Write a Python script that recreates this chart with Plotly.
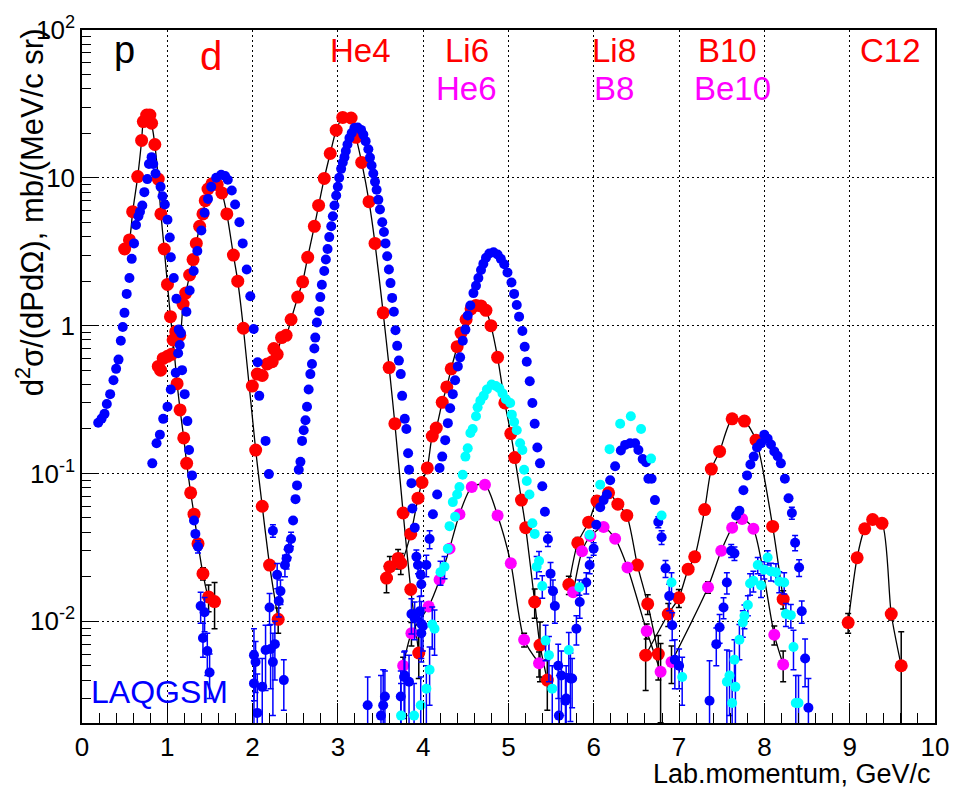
import math
import plotly.graph_objects as go

# ---------------- data: (momentum GeV/c, d2sigma, error) ----------------
# experimental (red) fragments, joined by black curves
exp_p = [(0.50,3.3,0),(0.556,3.8,0),(0.594,5.9,0),(0.653,10.2,0),(0.699,17.9,0),(0.719,24,0),(0.758,26.6,0),
         (0.796,26.6,0),(0.816,23.4,0),(0.854,16.8,0),(0.894,9.8,0),(0.925,5.7,0),(0.964,3.3,0),(1.002,1.9,0),
         (1.037,1.15,0),(1.068,0.80,0),(1.115,0.405,0),(1.150,0.269,0),(1.193,0.174,0),(1.227,0.117,0),
         (1.274,0.074,0),(1.313,0.053,0),(1.360,0.0335,0.002),(1.418,0.021,0.002),(1.484,0.0146,0.003),
         (1.554,0.0136,0.0047)]
exp_d = [(0.894,0.53,0),(0.921,0.50,0),(0.952,0.60,0),(1.002,0.62,0),(1.049,0.64,0),(1.099,0.91,0),(1.146,0.86,0),
         (1.185,1.4,0),(1.216,1.66,0),(1.262,2.2,0),(1.302,2.8,0),(1.340,3.6,0),(1.379,4.7,0),(1.418,5.7,0),
         (1.445,7.0,0),(1.477,8.4,0),(1.523,9.1,0),(1.585,9.0,0),(1.640,7.9,0),(1.698,5.7,0),(1.775,3.0,0),
         (1.826,2.0,0),(1.892,0.96,0),(2.036,0.144,0),(2.113,0.060,0),(2.199,0.024,0),(2.30,0.0103,0.002)]
exp_he4 = [(1.997,0.39,0),(2.055,0.47,0),(2.113,0.46,0),(2.171,0.55,0),(2.230,0.57,0),(2.249,0.70,0),(2.288,0.64,0),
           (2.339,0.83,0),(2.393,0.86,0),(2.451,1.1,0),(2.529,1.56,0),(2.587,1.98,0),(2.646,2.9,0),(2.724,4.7,0),
           (2.774,6.5,0),(2.840,9.9,0),(2.910,14.6,0),(2.980,21,0),(3.057,25.6,0),(3.155,25.4,0),(3.213,18.8,0),
           (3.279,12.7,0),(3.365,6.9,0),(3.435,3.6,0),(3.531,1.22,0),(3.601,0.52,0),(3.668,0.217,0),
           (3.765,0.054,0),(3.854,0.0164,0),(3.948,0.0061,0.002)]
exp_li6 = [(3.570,0.0196,0.004),(3.609,0.0234,0.004),(3.706,0.0266,0.004),(3.737,0.0247,0.004),(3.854,0.039,0),
           (3.939,0.068,0),(3.986,0.087,0),(4.048,0.109,0),(4.106,0.179,0),(4.153,0.203,0),(4.223,0.303,0),
           (4.277,0.385,0),(4.328,0.51,0),(4.398,0.72,0),(4.444,0.89,0),(4.503,1.10,0),(4.561,1.30,0),
           (4.619,1.37,0),(4.678,1.36,0),(4.736,1.27,0),(4.794,1.0,0),(4.872,0.61,0),(4.957,0.30,0),
           (5.027,0.186,0),(5.074,0.128,0),(5.152,0.066,0),(5.202,0.043,0.003),(5.307,0.0135,0.003),
           (5.369,0.0069,0.003),(5.455,0.0040,0.0015)]
exp_li8 = [(5.707,0.0177,0.0025),(5.812,0.0339,0.003),(5.940,0.0468,0),(6.037,0.065,0),(6.173,0.074,0),
           (6.282,0.062,0),(6.387,0.052,0),(6.511,0.024,0),(6.632,0.0131,0.002),(6.756,0.0060,0.002)]
exp_b10 = [(6.608,0.0059,0.0025),(6.873,0.0112,0.002),(6.997,0.0144,0.002),(7.106,0.0225,0),(7.183,0.0273,0),
           (7.300,0.057,0),(7.378,0.107,0),(7.475,0.141,0),(7.622,0.234,0),(7.766,0.226,0),(7.902,0.168,0),
           (8.097,0.0438,0),(8.220,0.0141,0.002)]
exp_c12 = [(8.982,0.0098,0.0015),(9.087,0.0269,0),(9.176,0.0422,0),(9.269,0.0488,0),(9.379,0.046,0),
           (9.487,0.0112,0.001),(9.604,0.0050,0.0035)]
# experimental (magenta) fragments
exp_he6 = [(3.765,0.0050,0.0007),(3.862,0.0083,0.0015),(4.064,0.0126,0),(4.192,0.0191,0),(4.309,0.031,0),
           (4.425,0.053,0),(4.569,0.081,0),(4.724,0.084,0),(4.872,0.052,0),(5.027,0.0247,0),(5.183,0.0075,0.0008),
           (5.358,0.0052,0.001)]
exp_b8 = [(5.758,0.0157,0),(5.862,0.0298,0),(5.960,0.0377,0),(6.115,0.0434,0),(6.250,0.0362,0),(6.395,0.0231,0),
          (6.620,0.0086,0.001),(6.783,0.00456,0.0025)]
exp_be10 = [(6.911,0.0053,0.0015),(7.339,0.017,0.0015),(7.494,0.030,0),(7.622,0.0429,0),(7.739,0.0492,0),
            (7.871,0.0422,0),(8.116,0.0081,0.0012),(8.220,0.0051,0.0012)]

# LAQGSM (blue) for p, d, He4, Li6, Li8, B10
laq_p = [(0.19,0.22,0),(0.23,0.235,0),(0.264,0.253,0),(0.291,0.295,0),(0.330,0.344,0),(0.369,0.427,0),(0.400,0.51,0),
         (0.428,0.589,0),(0.455,0.79,0),(0.478,0.98,0),(0.498,1.22,0),(0.524,1.64,0),(0.556,2.1,0),(0.583,2.83,0),
         (0.610,3.6,0),(0.633,4.8,0),(0.661,5.5,0),(0.680,5.9,0),(0.707,6.5,0),(0.731,8.0,0),(0.766,9.8,0),
         (0.785,12.4,0),(0.816,13.8,0),(0.835,12.4,0),(0.862,10.7,0),(0.921,8.7,0),(0.944,7.5,0),(0.971,6.6,0),
         (1.002,5.2,0),(1.029,3.95,0),(1.041,2.9,0),(1.076,2.1,0),(1.107,1.52,0),(1.134,0.94,0),(1.173,0.50,0),
         (1.204,0.344,0),(1.235,0.226,0),(1.255,0.144,0),(1.290,0.097,0),(1.313,0.048,0),(1.329,0.039,0),
         (1.360,0.032,0.003),(1.391,0.0127,0.003),(1.437,0.0115,0.003),(1.418,0.0077,0.002),(1.469,0.0063,0.002),
         (1.496,0.0045,0.0015)]
laq_d = [(0.824,0.117,0),(0.874,0.160,0),(0.913,0.183,0),(0.952,0.234,0),(1.002,0.283,0),(1.041,0.37,0),
         (1.099,0.48,0),(1.127,0.65,0),(1.146,0.74,0),(1.160,0.89,0),(1.224,1.24,0),(1.262,1.73,0),(1.309,2.34,0),
         (1.352,3.2,0),(1.399,4.4,0),(1.437,5.8,0),(1.477,7.2,0),(1.515,8.7,0),(1.573,10.0,0),(1.632,10.5,0),
         (1.678,10.3,0),(1.709,9.7,0),(1.756,8.2,0),(1.795,6.6,0),(1.845,5.0,0),(1.884,3.6,0),(1.931,2.4,0),
         (1.973,1.58,0),(2.013,0.95,0),(2.059,0.565,0),(2.078,0.335,0),(2.152,0.166,0),(2.191,0.099,0),
         (2.238,0.041,0.004),(2.199,0.0124,0.003),(2.261,0.0070,0.003),(2.238,0.0053,0.003),(2.366,0.0040,0.0015)]
laq_he4 = [(2.016,0.0059,0.003),(2.016,0.0038,0.0025),(2.055,0.0024,0.002),(2.035,0.0053,0.002),(2.113,0.0036,0.002),
           (2.152,0.0064,0.003),(2.211,0.0065,0.003),(2.288,0.0206,0.004),(2.307,0.0137,0.003),(2.327,0.016,0.003),
           (2.379,0.024,0.004),(2.398,0.0266,0.004),(2.424,0.031,0.004),(2.451,0.036,0.004),(2.475,0.048,0),
           (2.503,0.067,0),(2.521,0.083,0),(2.541,0.106,0),(2.561,0.12,0),(2.580,0.166,0),(2.599,0.196,0),
           (2.620,0.229,0),(2.638,0.283,0),(2.657,0.37,0),(2.677,0.47,0),(2.696,0.55,0),(2.724,0.70,0),
           (2.735,0.83,0),(2.754,1.05,0),(2.782,1.25,0),(2.794,1.56,0),(2.812,1.89,0),(2.840,2.34,0),(2.859,2.8,0),
           (2.879,3.3,0),(2.899,3.97,0),(2.922,4.7,0),(2.941,5.5,0),(2.960,6.5,0),(2.980,7.6,0),(2.999,8.7,0),
           (3.015,10,0),(3.038,11.5,0),(3.057,12.7,0),(3.077,13.8,0),(3.093,15.2,0),(3.112,16.8,0),(3.135,18.6,0),
           (3.162,20.1,0),(3.193,21.7,0),(3.232,21.9,0),(3.272,21.1,0),(3.298,19.6,0),(3.325,17.7,0),
           (3.357,15.6,0),(3.376,13.7,0),(3.395,12.1,0),(3.415,10.7,0),(3.435,9.4,0),(3.454,8.3,0),(3.474,7.1,0),
           (3.493,6.1,0),(3.520,5.0,0),(3.540,4.3,0),(3.558,3.6,0),(3.578,2.95,0),(3.598,2.4,0),(3.617,1.94,0),
           (3.636,1.54,0),(3.656,1.24,0),(3.675,0.93,0),(3.695,0.73,0),(3.715,0.58,0),(3.737,0.47,0),
           (3.753,0.335,0),(3.784,0.234,0),(3.803,0.20,0),(3.823,0.137,0),(3.834,0.106,0),(3.862,0.086,0),
           (3.873,0.058,0),(3.901,0.043,0),(3.920,0.0273,0.003),(3.939,0.024,0.003),(3.971,0.0206,0.003),
           (3.978,0.0178,0.003),(3.862,0.0112,0.003),(3.959,0.0117,0.003),(3.978,0.0096,0.004),(3.978,0.0083,0.003),
           (3.784,0.0043,0.002),(3.834,0.0039,0.002),(3.551,0.0031,0.0015),(3.531,0.0027,0.002),
           (3.349,0.0027,0.0015),(3.505,0.0023,0.002),(3.737,0.0031,0.0015)]
laq_li6 = [(4.037,0.024,0.004),(4.075,0.036,0.005),(4.114,0.053,0),(4.164,0.072,0),(4.192,0.109,0),(4.223,0.130,0),
           (4.258,0.168,0),(4.289,0.219,0),(4.316,0.276,0),(4.347,0.344,0),(4.374,0.427,0),(4.406,0.53,0),
           (4.433,0.61,0),(4.464,0.79,0),(4.495,0.94,0),(4.522,1.17,0),(4.553,1.37,0),(4.589,1.66,0),(4.619,1.86,0),
           (4.647,2.1,0),(4.678,2.38,0),(4.705,2.62,0),(4.736,2.88,0),(4.775,3.08,0),(4.825,3.14,0),(4.872,3.03,0),
           (4.910,2.83,0),(4.950,2.6,0),(4.988,2.29,0),(5.035,1.96,0),(5.066,1.64,0),(5.097,1.38,0),(5.124,1.15,0),
           (5.163,0.92,0),(5.190,0.72,0),(5.214,0.57,0),(5.249,0.42,0),(5.280,0.30,0),(5.307,0.217,0),
           (5.338,0.150,0),(5.369,0.117,0),(5.396,0.082,0),(5.427,0.055,0),(5.462,0.036,0.004),(5.493,0.021,0.004),
           (5.521,0.016,0.003),(5.544,0.0127,0.003),(5.583,0.0050,0.002),(5.620,0.0043,0.002),(5.591,0.0023,0.002),
           (5.668,0.0029,0.0015),(5.676,0.0030,0.002),(5.726,0.0041,0.002),(5.746,0.0041,0.0015),
           (3.776,0.0042,0.002),(3.997,0.0093,0.003),(3.900,0.0105,0.003)]
laq_li8 = [(5.796,0.0089,0.002),(5.835,0.0135,0.003),(5.912,0.0183,0.003),(5.951,0.024,0.003),(5.998,0.031,0.003),
           (6.029,0.045,0),(6.075,0.059,0),(6.115,0.066,0),(6.154,0.072,0),(6.192,0.090,0),(6.250,0.112,0),
           (6.317,0.143,0),(6.367,0.156,0),(6.425,0.16,0),(6.484,0.16,0),(6.523,0.144,0),(6.573,0.125,0),
           (6.612,0.119,0),(6.640,0.092,0),(6.678,0.092,0),(6.717,0.066,0),(6.756,0.047,0.004),(6.795,0.037,0.004),
           (6.841,0.0228,0.003),(6.884,0.0148,0.003),(6.919,0.0094,0.002),(6.950,0.0055,0.002),(7.000,0.0050,0.0015)]
laq_b10 = [(7.357,0.0029,0.0025),(7.436,0.0070,0.002),(7.475,0.0091,0.002),(7.521,0.0124,0.002),(7.560,0.0183,0.003),
           (7.611,0.030,0.003),(7.649,0.0288,0.003),(7.669,0.052,0),(7.707,0.056,0),(7.754,0.077,0),(7.797,0.097,0),
           (7.836,0.115,0),(7.875,0.130,0),(7.914,0.150,0),(7.960,0.160,0),(7.999,0.183,0),(8.038,0.172,0),
           (8.077,0.157,0),(8.116,0.141,0),(8.155,0.131,0),(8.193,0.117,0),(8.240,0.092,0),(8.283,0.068,0),
           (8.322,0.054,0.005),(8.360,0.034,0.004),(8.407,0.0231,0.003),(8.438,0.0117,0.002),(8.477,0.0056,0.002),
           (8.516,0.0026,0.0015)]
# LAQGSM (cyan) for He6, B8, Be10
laq_he6 = [(3.740,0.0023,0.0015),(3.893,0.0023,0.0015),(3.971,0.0027,0.0015),(4.037,0.0035,0.0015),
           (4.075,0.0047,0.002),(4.106,0.0095,0.003),(4.133,0.0089,0.003),(4.203,0.0215,0.004),(4.250,0.0234,0.004),
           (4.289,0.031,0),(4.309,0.044,0),(4.374,0.051,0),(4.347,0.064,0),(4.398,0.072,0),(4.425,0.081,0),
           (4.463,0.098,0),(4.495,0.130,0),(4.522,0.148,0),(4.553,0.188,0),(4.580,0.20,0),(4.619,0.244,0),
           (4.638,0.28,0),(4.670,0.31,0),(4.709,0.335,0),(4.747,0.37,0),(4.802,0.40,0),(4.852,0.39,0),
           (4.892,0.377,0),(4.930,0.348,0),(4.969,0.318,0),(5.020,0.30,0),(5.039,0.25,0),(5.066,0.223,0),
           (5.097,0.196,0),(5.136,0.160,0),(5.163,0.144,0),(5.183,0.106,0),(5.214,0.089,0),(5.246,0.072,0),
           (5.280,0.046,0),(5.307,0.039,0),(5.330,0.0234,0.004),(5.358,0.0256,0.004),(5.396,0.0173,0.003),
           (5.435,0.0074,0.002),(5.474,0.0059,0.002),(5.513,0.0035,0.0015)]
laq_b8 = [(5.707,0.0064,0.002),(5.831,0.017,0.002),(5.951,0.0385,0),(6.075,0.084,0),(6.185,0.146,0),(6.309,0.217,0),
          (6.434,0.244,0),(6.554,0.20,0),(6.671,0.126,0),(6.795,0.052,0),(6.911,0.0183,0.003),(7.036,0.0042,0.0015)]
laq_be10 = [(7.560,0.0039,0.0025),(7.591,0.0043,0.002),(7.622,0.0028,0.0015),(7.649,0.0055,0.002),
            (7.660,0.0036,0.002),(7.707,0.0075,0.002),(7.747,0.0098,0.002),(7.766,0.0109,0.002),
            (7.806,0.0129,0.002),(7.832,0.018,0.003),(7.871,0.0188,0.003),(7.922,0.024,0.003),(7.960,0.0175,0.003),
            (7.999,0.0223,0.003),(8.038,0.027,0.003),(8.077,0.0217,0.003),(8.135,0.0215,0.003),
            (8.174,0.0186,0.003),(8.232,0.0183,0.003),(8.252,0.0112,0.002),(8.310,0.011,0.002),
            (8.341,0.0067,0.002),(8.368,0.0028,0.0015),(8.400,0.0028,0.0015)]

# text labels
frag_red = [("He4", 362), ("Li6", 469), ("Li8", 617), ("B10", 731), ("C12", 895)]
frag_mag = [("He6", 469), ("B8", 617), ("Be10", 736)]
y_tickvals = [0.01, 0.1, 1, 10, 100]
y_ticktext = ["10<sup>-2</sup>", "10<sup>-1</sup>", "1", "10", "10<sup>2</sup>"]
x_tickvals = list(range(0, 11))

# ---------------- figure ----------------
FONT = "Liberation Sans, Arial, Helvetica, sans-serif"
W, H = 961, 790
L, R, T, B = 82, 21, 20, 67
PW, PH = W - L - R, H - T - B

def px2paper(px, py):
    return (px - L) / PW, (H - B - py) / PH

def unpack(pts):
    xs = [p[0] for p in pts]
    ys = [p[1] for p in pts]
    es = [p[2] if p[2] > 0 else None for p in pts]
    return xs, ys, es

fig = go.Figure()

for g in [exp_p, exp_d, exp_he4, exp_li6, exp_li8, exp_b10, exp_c12, exp_he6, exp_b8, exp_be10]:
    xs, ys, _ = unpack(g)
    fig.add_trace(go.Scatter(x=xs, y=ys, mode="lines", showlegend=False, hoverinfo="skip",
                             line=dict(color="black", width=1.3, shape="spline", smoothing=0.7)))

def add_pts(g, color, size, ecolor):
    xs, ys, es = unpack(g)
    fig.add_trace(go.Scatter(x=xs, y=ys, mode="markers", showlegend=False,
                             marker=dict(color=color, size=size, line=dict(width=0)),
                             error_y=dict(type="data", array=es, visible=True, color=ecolor,
                                          thickness=1.5, width=3)))

for g in [exp_p, exp_d, exp_he4, exp_li6, exp_li8, exp_b10, exp_c12]:
    add_pts(g, "#ff0000", 13, "black")
for g in [exp_he6, exp_b8, exp_be10]:
    add_pts(g, "#ff00ff", 12, "black")
for g in [laq_p, laq_d, laq_he4, laq_li6, laq_li8, laq_b10]:
    add_pts(g, "#0000ff", 10, "#0000ff")
for g in [laq_he6, laq_b8, laq_be10]:
    add_pts(g, "#00ffff", 10, "#0000ff")

ymin = 0.00205
minor_y = [k * 10.0 ** d for d in range(-3, 2) for k in range(2, 10) if ymin < k * 10.0 ** d < 100]

fig.update_layout(
    width=W, height=H, margin=dict(l=L, r=R, t=T, b=B),
    paper_bgcolor="white", plot_bgcolor="white",
    font=dict(family=FONT, color="black"),
    xaxis=dict(range=[0, 10], tickvals=x_tickvals, ticks="inside", ticklen=20, tickwidth=1, tickcolor="black",
               showline=True, linecolor="black", linewidth=1.5, mirror=True, zeroline=False,
               showgrid=True, gridcolor="black", griddash="2px,3px", gridwidth=1,
               minor=dict(ticks="inside", ticklen=10, tick0=0, dtick=0.2, tickcolor="black", showgrid=False),
               tickfont=dict(family=FONT, size=26, color="black")),
    yaxis=dict(type="log", range=[math.log10(ymin), 2], tickvals=y_tickvals, ticktext=y_ticktext,
               ticks="inside", ticklen=17, tickwidth=1, tickcolor="black",
               showline=True, linecolor="black", linewidth=1.5, mirror=True, zeroline=False,
               showgrid=True, gridcolor="black", griddash="2px,3px", gridwidth=1,
               minor=dict(ticks="inside", ticklen=9, tickvals=minor_y, tickcolor="black", showgrid=False),
               tickfont=dict(family=FONT, size=26, color="black")),
)

def note(text, px, py, size, color, xanchor="center", yanchor="middle", angle=0):
    x0, y0 = px2paper(px, py)
    return dict(text=text, x=x0, y=y0, xref="paper", yref="paper", xanchor=xanchor, yanchor=yanchor,
                textangle=angle, showarrow=False, font=dict(family=FONT, size=size, color=color))

ann = [
    note("d<sup>2</sup>σ/(dPdΩ), mb/(MeV/c sr)", 30, 16, 31, "black", yanchor="top", angle=-90),
    note("Lab.momentum, GeV/c", 938, 775, 27, "black", xanchor="right"),
    note("p", 125, 40, 38, "black"),
    note("d", 212, 46, 40, "#ff0000"),
    note("LAQGSM", 89, 692, 32, "#0000ff", xanchor="left"),
]
for name, px in frag_red:
    ann.append(note(name, px, 41, 33, "#ff0000"))
for name, px in frag_mag:
    ann.append(note(name, px, 79, 33, "#ff00ff"))
fig.update_layout(annotations=ann)

fig.write_html("out.html")
